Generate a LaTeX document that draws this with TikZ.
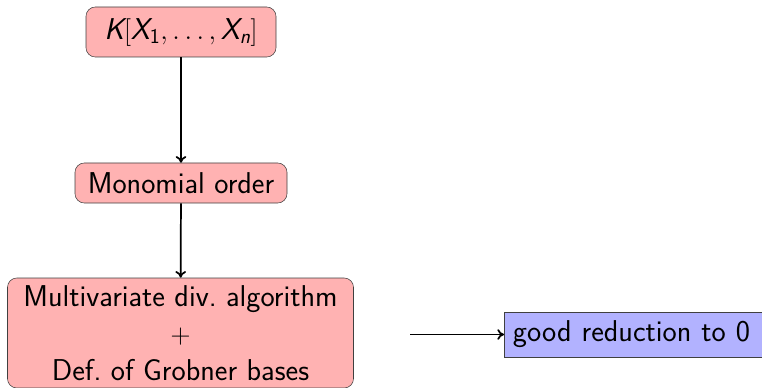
\documentclass[tikz,border=0pt]{standalone}
\usepackage{amsmath}
\usetikzlibrary{arrows.meta}
\renewcommand{\familydefault}{\sfdefault}
\tikzset{
  boxfont/.style={font=\fontsize{22.6}{27.6}\selectfont},
  redbox/.style={draw=black!75, fill=red!30, rounded corners=7pt, align=center,
    boxfont, inner sep=0pt},
  bluebox/.style={draw=black!75, fill=blue!30, align=left,
    boxfont, inner xsep=6.5pt, inner ysep=0pt, anchor=west},
  flow/.style={-{To[length=5pt, width=8pt]}, line width=1.3pt},
}
\newcommand{\slx}[1]{\text{\slshape #1}}
\begin{document}
\begin{tikzpicture}[x=0.75pt, y=-0.75pt]
  \useasboundingbox (0,0) rectangle (762,388);
  \node[redbox, minimum width=190*0.75pt, minimum height=50*0.75pt] (ring) at (181,32)
    {$\slx{K}[\slx{X}_{\textsf{1}},\ldots,\slx{X}_{\slx{n}}]$};
  \node[redbox, minimum width=212*0.75pt, minimum height=40*0.75pt] (order) at (181,183)
    {Monomial order};
  \node[redbox, minimum width=346*0.75pt, minimum height=110*0.75pt] (div) at (180.5,333)
    {Multivariate div.\ algorithm\\ $+$\\ Def.\ of Grobner bases};
  \node[bluebox, minimum height=45*0.75pt, text width=266*0.75pt] (good) at (504,334.5)
    {good reduction to 0};
  \coordinate (start) at (410,334.5);
  \draw[flow] (ring) -- (order);
  \draw[flow] (order) -- (div);
  \draw[flow] (start) -- (good);
\end{tikzpicture}
\end{document}
